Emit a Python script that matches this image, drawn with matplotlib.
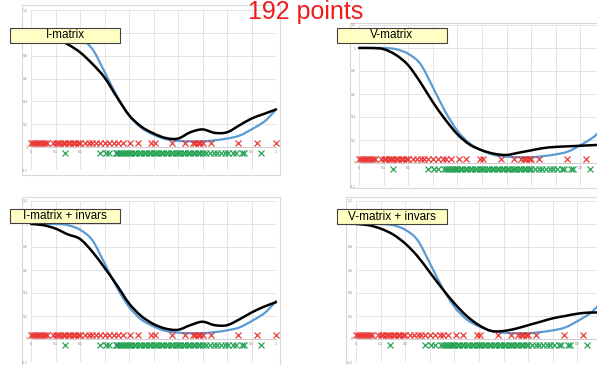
import numpy as np
import matplotlib.pyplot as plt
from matplotlib.patches import Rectangle, PathPatch
from matplotlib.path import Path

plt.rcParams['font.family'] = ['Liberation Sans', 'DejaVu Sans']

W, H = 597, 365

# sample positions shared by every curve
x = [0, 0.05, 0.1, 0.15, 0.2, 0.25, 0.3, 0.35, 0.4, 0.45, 0.5,
     0.55, 0.6, 0.65, 0.7, 0.75, 0.8, 0.85, 0.9, 0.95, 1.0]

# exact solution (blue)
exact_x = x[:-1] + [0.975, 1.0]
exact = [1.0, 1.0, 1.0, 0.99, 0.95, 0.86, 0.66, 0.45, 0.28, 0.17, 0.11,
         0.07, 0.055, 0.05, 0.05, 0.06, 0.075, 0.10, 0.155, 0.22, 0.27, 0.33]

# fitted curves (black)
i_matrix = [1.0, 0.99, 0.95, 0.90, 0.83, 0.73, 0.61, 0.44, 0.28, 0.18, 0.12,
            0.08, 0.075, 0.13, 0.155, 0.125, 0.13, 0.19, 0.25, 0.29, 0.33]
v_matrix = [1.0, 1.0, 0.99, 0.94, 0.85, 0.70, 0.53, 0.38, 0.25, 0.16, 0.11,
            0.08, 0.07, 0.09, 0.11, 0.13, 0.14, 0.145, 0.15, 0.155, 0.16]
i_matrix_invars = [1.0, 0.99, 0.96, 0.91, 0.87, 0.76, 0.62, 0.47, 0.31, 0.20, 0.13,
                   0.09, 0.08, 0.12, 0.15, 0.12, 0.12, 0.17, 0.23, 0.28, 0.32]
v_matrix_invars = [1.0, 0.99, 0.96, 0.91, 0.83, 0.72, 0.58, 0.44, 0.31, 0.20, 0.12,
                   0.07, 0.07, 0.09, 0.12, 0.15, 0.18, 0.20, 0.22, 0.23, 0.23]

# point sets drawn as crosses along the bottom
red_x = [0, 0.008, 0.016, 0.024, 0.032, 0.04, 0.048, 0.056, 0.064,
         0.09, 0.1, 0.11, 0.12, 0.13, 0.14, 0.15, 0.16, 0.17, 0.18, 0.19, 0.2,
         0.22, 0.235, 0.25, 0.265, 0.28, 0.30, 0.32,
         0.34, 0.355, 0.375, 0.405, 0.435, 0.49, 0.505, 0.577, 0.63,
         0.66, 0.67, 0.68, 0.69, 0.70, 0.733, 0.846, 0.924, 1.0]
green_x = [0.14, 0.28, 0.305, 0.32,
           0.345, 0.353, 0.361, 0.369, 0.377, 0.385, 0.393, 0.40,
           0.41, 0.42, 0.43, 0.44, 0.45, 0.46, 0.47, 0.48, 0.49, 0.50,
           0.51, 0.52, 0.53, 0.54, 0.55, 0.56, 0.57, 0.58, 0.59, 0.60,
           0.61, 0.62, 0.63, 0.64, 0.65, 0.66, 0.67, 0.68, 0.69,
           0.70, 0.715, 0.73, 0.745, 0.76, 0.775, 0.79, 0.805,
           0.825, 0.835, 0.86, 0.87, 0.94]
red_level = 0.035
green_level = -0.055

x_ticks = [0, 0.1, 0.2, 0.3, 0.4, 0.5, 0.6, 0.7, 0.8, 0.9, 1.0]
x_tick_labels = ['0', '0.1', '0.2', '0.3', '0.4', '0.5', '0.6', '0.7', '0.8', '0.9', '1']
y_ticks = [-0.2, 0, 0.2, 0.4, 0.6, 0.8, 1.0, 1.2]
y_tick_labels = ['-0.2', '0', '0.2', '0.4', '0.6', '0.8', '1', '1.2']

titles = ["I-matrix", "V-matrix", "I-matrix + invars", "V-matrix + invars"]
fits = [i_matrix, v_matrix, i_matrix_invars, v_matrix_invars]

# pixel boxes: plot area, chart frame, label box  (left, top, right, bottom)
plot_boxes = [(31, 10, 276, 170), (359, 25, 605, 186),
              (31, 201, 276, 362), (356, 201, 602, 362)]
frame_boxes = [(22, 5, 280, 175), (350, 23, 640, 188),
               (22, 197, 280, 372), (346, 197, 640, 372)]
label_boxes = [(10, 28, 120, 43), (337, 28, 447, 43),
               (10, 209, 120, 223), (337, 209, 447, 224)]


def fig_rect(l, t, r, b):
    return [l / W, 1 - b / H, (r - l) / W, (b - t) / H]


def smooth_line(ax, xs, ys, **kw):
    # spreadsheet-style smoothed line: cubic Bezier segments through the points
    pts = np.column_stack([xs, ys])
    n = len(pts)
    verts = [pts[0]]
    codes = [Path.MOVETO]
    for i in range(n - 1):
        p0 = pts[max(i - 1, 0)]
        p1 = pts[i]
        p2 = pts[i + 1]
        p3 = pts[min(i + 2, n - 1)]
        verts += [p1 + (p2 - p0) / 6, p2 - (p3 - p1) / 6, p2]
        codes += [Path.CURVE4] * 3
    ax.add_patch(PathPatch(Path(verts, codes), facecolor='none',
                           transform=ax.transData, clip_on=False,
                           capstyle='round', joinstyle='round', **kw))


fig = plt.figure(figsize=(W / 100, H / 100), dpi=100)
fig.patch.set_facecolor('white')

for title, fit, pbox, fbox, lbox in zip(titles, fits, plot_boxes, frame_boxes, label_boxes):
    l, b, w, h = fig_rect(*fbox)
    fig.patches.append(Rectangle((l, b), w, h, transform=fig.transFigure,
                                 facecolor='none', edgecolor='#d9d9d9', lw=0.8, zorder=-1))

    ax = fig.add_axes(fig_rect(*pbox))
    ax.set_xlim(0, 1)
    ax.set_ylim(-0.2, 1.2)
    ax.set_facecolor('none')
    # tick labels past the right edge of the figure are left blank
    x0, x1 = pbox[0], pbox[2]
    ax.set_xticks(x_ticks)
    ax.set_xticklabels([lab if x0 + t * (x1 - x0) < W - 4 else ''
                        for t, lab in zip(x_ticks, x_tick_labels)])
    ax.set_yticks(y_ticks)
    ax.set_yticklabels(y_tick_labels)
    ax.tick_params(length=0, labelsize=2.5, labelcolor='#8c8c8c', pad=2)
    ax.grid(True, color='#e4e4e4', lw=0.7)
    ax.set_axisbelow(True)
    for side in ['top', 'right', 'left']:
        ax.spines[side].set_visible(False)
    ax.spines['bottom'].set_position(('data', 0))
    ax.spines['bottom'].set_color('#d0d0d0')
    ax.spines['bottom'].set_linewidth(0.7)

    ax.plot(red_x, [red_level] * len(red_x), ls='none', marker='x',
            color='#e8302e', ms=4.2, mew=0.85, clip_on=False)
    ax.plot(green_x, [green_level] * len(green_x), ls='none', marker='x',
            color='#1fa050', ms=4.2, mew=0.85, clip_on=False)
    smooth_line(ax, exact_x, exact, edgecolor='#5b9bd5', lw=1.6)
    smooth_line(ax, x, fit, edgecolor='black', lw=1.8)

    l, b, w, h = fig_rect(*lbox)
    fig.patches.append(Rectangle((l, b), w, h, transform=fig.transFigure,
                                 facecolor='#ffffc4', edgecolor='#404040', lw=0.8, zorder=5))
    fig.text(l + w / 2, b + h / 2, title, ha='center', va='center',
             fontsize=8.5, color='black', zorder=6)

fig.text(305.5 / W, 1 - 19.5 / H, "192 points", ha='center', va='baseline',
         fontsize=18, color='#ee1c1c')

fig.savefig('out.png', dpi=100)
